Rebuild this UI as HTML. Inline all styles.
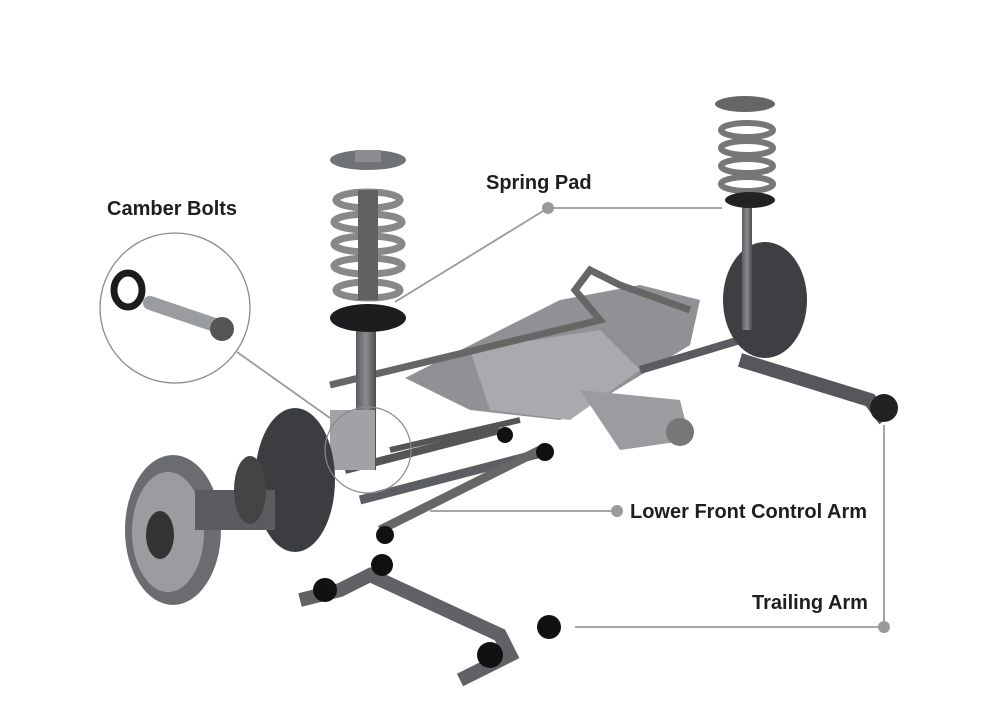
<!DOCTYPE html>
<html><head><style>
html,body{margin:0;padding:0;background:#fff;}
svg{display:block}
text{font-family:"Liberation Sans",sans-serif;font-weight:bold;font-size:20px;fill:#1e1e1e}
</style></head><body>
<svg width="1000" height="712" viewBox="0 0 1000 712">
<defs>
<linearGradient id="h" x1="0" y1="0" x2="1" y2="0"><stop offset="0" stop-color="#5a5c60"/><stop offset=".5" stop-color="#8a8c90"/><stop offset="1" stop-color="#4a4c50"/></linearGradient>
</defs>
<polygon points="405,378 560,300 640,285 700,300 690,345 600,400 560,420 470,410" fill="#8f9195"/>
<polygon points="470,350 600,330 640,370 570,420 490,410" fill="#a8aaae"/>
<polygon points="580,390 680,400 690,440 620,450" fill="#9a9ca0"/>
<circle cx="680" cy="432" r="14" fill="#777"/>
<path d="M330,385 L600,320 L575,290 L590,270 L620,285 L690,310" stroke="#666" stroke-width="7" fill="none"/>
<path d="M345,470 L500,430" stroke="#555" stroke-width="8"/>
<path d="M360,500 L545,452" stroke="#5c5e62" stroke-width="9"/>
<path d="M380,530 L540,450" stroke="#666" stroke-width="9"/>
<path d="M390,450 L520,420" stroke="#555" stroke-width="6"/>
<path d="M640,370 L740,340" stroke="#5a5c60" stroke-width="8"/>
<ellipse cx="765" cy="300" rx="42" ry="58" fill="#3d3f43"/>
<path d="M740,360 L870,400 L885,420" stroke="#55575b" stroke-width="14" fill="none"/>
<circle cx="884" cy="408" r="14" fill="#222"/>
<rect x="742" y="200" width="10" height="130" fill="url(#h)"/>
<g stroke="#777" stroke-width="6" fill="none">
<ellipse cx="747" cy="130" rx="26" ry="7"/><ellipse cx="747" cy="148" rx="26" ry="7"/><ellipse cx="747" cy="166" rx="26" ry="7"/><ellipse cx="747" cy="184" rx="26" ry="7"/></g>
<ellipse cx="745" cy="104" rx="30" ry="8" fill="#666"/>
<ellipse cx="750" cy="200" rx="25" ry="8" fill="#222"/>
<rect x="356" y="330" width="20" height="140" fill="url(#h)"/>
<rect x="330" y="410" width="45" height="60" fill="#a0a2a6"/>
<g stroke="#888" stroke-width="7" fill="none">
<ellipse cx="368" cy="200" rx="32" ry="8"/><ellipse cx="368" cy="222" rx="34" ry="8"/><ellipse cx="368" cy="244" rx="34" ry="8"/><ellipse cx="368" cy="266" rx="34" ry="8"/><ellipse cx="368" cy="290" rx="32" ry="8"/></g>
<rect x="358" y="190" width="20" height="110" fill="#5f6165"/>
<ellipse cx="368" cy="160" rx="38" ry="10" fill="#707276"/>
<rect x="355" y="150" width="26" height="12" fill="#8a8c90"/>
<ellipse cx="368" cy="318" rx="38" ry="14" fill="#1d1d1f"/>
<ellipse cx="295" cy="480" rx="40" ry="72" fill="#3b3d41"/>
<ellipse cx="173" cy="530" rx="48" ry="75" fill="#6a6c70"/>
<ellipse cx="168" cy="532" rx="36" ry="60" fill="#9a9ca0"/>
<ellipse cx="160" cy="535" rx="14" ry="24" fill="#333"/>
<rect x="195" y="490" width="80" height="40" fill="#5a5c60"/>
<ellipse cx="250" cy="490" rx="16" ry="34" fill="#444"/>
<path d="M300,600 L340,590 L370,575 L500,635 L510,655 L460,680" stroke="#606266" stroke-width="14" fill="none"/>
<circle cx="325" cy="590" r="12" fill="#111"/><circle cx="382" cy="565" r="11" fill="#111"/>
<circle cx="490" cy="655" r="13" fill="#111"/><circle cx="549" cy="627" r="12" fill="#111"/>
<circle cx="385" cy="535" r="9" fill="#111"/><circle cx="545" cy="452" r="9" fill="#111"/><circle cx="505" cy="435" r="8" fill="#111"/>
<circle cx="175" cy="308" r="75" fill="#fff" stroke="#8a8a8a" stroke-width="1.3"/>
<ellipse cx="128" cy="290" rx="14" ry="17" fill="none" stroke="#1c1c1c" stroke-width="7"/>
<path d="M150,303 L215,325" stroke="#9a9ca0" stroke-width="14" stroke-linecap="round"/>
<circle cx="222" cy="329" r="12" fill="#555"/>
<circle cx="368" cy="450" r="43" fill="none" stroke="#8a8a8a" stroke-width="1.2"/>
<g stroke="#9a9a9a" stroke-width="1.8" fill="none">
<line x1="237" y1="352" x2="330" y2="418"/>
<line x1="548" y1="208" x2="722" y2="208"/>
<line x1="548" y1="208" x2="395" y2="302"/>
<line x1="617" y1="511" x2="430" y2="511"/>
<line x1="884" y1="627" x2="575" y2="627"/>
<line x1="884" y1="627" x2="884" y2="425"/>
</g>
<circle cx="548" cy="208" r="6" fill="#9a9a9a"/>
<circle cx="617" cy="511" r="6" fill="#9a9a9a"/>
<circle cx="884" cy="627" r="6" fill="#9a9a9a"/>
<text x="107" y="215">Camber Bolts</text>
<text x="486" y="189">Spring Pad</text>
<text x="630" y="518">Lower Front Control Arm</text>
<text x="752" y="609">Trailing Arm</text>
</svg>
</body></html>
